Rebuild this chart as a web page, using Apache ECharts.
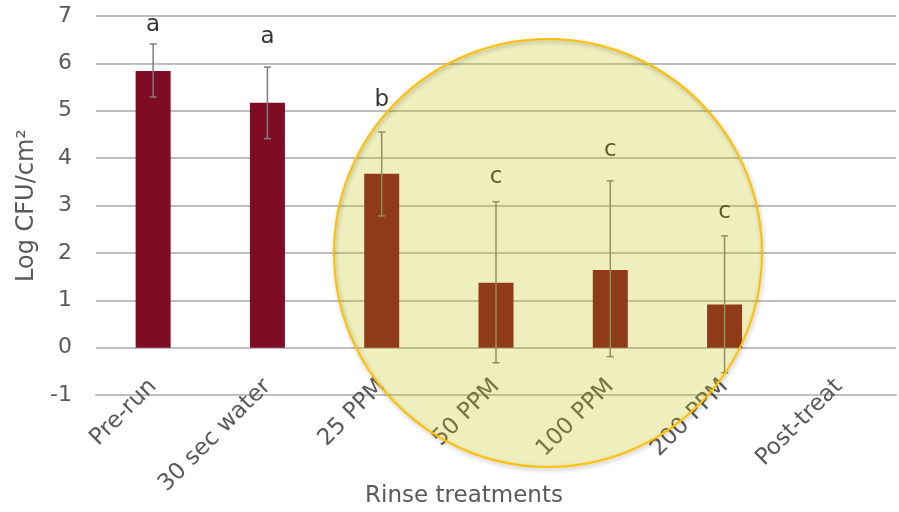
<!DOCTYPE html>
<html>
<head>
<meta charset="utf-8">
<script src="https://cdn.jsdelivr.net/npm/echarts@6/dist/echarts.min.js"></script>
<style>
	html, body { margin: 0; padding: 0; background: #fff; }
	#main { width: 899px; height: 512px; }
</style>
</head>
<body>
<div id="main"></div>
<script>
	var categories = [ 'Pre-run', '30 sec water', '25 PPM', '50 PPM', '100 PPM', '200 PPM', 'Post-treat' ];
	var means = [ 5.84, 5.17, 3.67, 1.37, 1.64, 0.91, null ];
	var errLow = [ 5.29, 4.41, 2.78, -0.32, -0.19, -0.53, null ];
	var errHigh = [ 6.41, 5.92, 4.55, 3.08, 3.52, 2.36, null ];
	var letters = [ 'a', 'a', 'b', 'c', 'c', 'c', '' ];
	var letterY = [ 6.81, 6.56, 5.23, 3.6, 4.17, 2.87, null ];

	var font = 'DejaVu Sans, Verdana, sans-serif';
	var myChart = echarts.init(document.getElementById('main'));

	var errData = [];
	var letterData = [];
	for (var i = 0; i < categories.length; i++) {
		if (means[i] == null) continue;
		errData.push([ i, errLow[i], errHigh[i] ]);
		letterData.push([ i, letterY[i], letters[i] ]);
	}

	option = {
		animation : false,
		grid : {
			left : 96,
			right : 3,
			top : 16,
			bottom : 117,
			outerBoundsMode : 'none'
		},
		xAxis : {
			type : 'category',
			data : categories,
			name : 'Rinse treatments',
			nameLocation : 'middle',
			nameGap : 90,
			nameMoveOverlap : false,
			nameTextStyle : {
				fontFamily : font,
				fontSize : 23,
				color : '#595959',
				padding : [ 0, 64, 0, 0 ]
			},
			axisLine : {
				onZero : false,
				lineStyle : { color : '#bfbfbf', width : 2 }
			},
			axisTick : { show : false },
			axisLabel : {
				rotate : 45,
				margin : -12,
				interval : 0,
				fontFamily : font,
				fontSize : 23,
				color : '#595959'
			}
		},
		yAxis : {
			type : 'value',
			min : -1,
			max : 7,
			interval : 1,
			name : 'Log CFU/cm\u00b2',
			nameLocation : 'middle',
			nameGap : 57,
			nameMoveOverlap : false,
			nameTextStyle : {
				fontFamily : font,
				fontSize : 24,
				color : '#595959'
			},
			axisLine : { show : false },
			axisTick : { show : false },
			axisLabel : {
				margin : 24,
				fontFamily : font,
				fontSize : 22,
				color : '#595959'
			},
			splitLine : {
				lineStyle : { color : '#bfbfbf', width : 2 }
			}
		},
		series : [ {
			name : 'mean',
			type : 'bar',
			data : means,
			barWidth : 35,
			itemStyle : { color : '#7e0c22' }
		}, {
			name : 'error',
			type : 'custom',
			data : errData,
			renderItem : function(params, api) {
				var x = api.value(0);
				var lo = api.coord([ x, api.value(1) ]);
				var hi = api.coord([ x, api.value(2) ]);
				var w = 3.5;
				var style = { stroke : '#7f7f7f', lineWidth : 1.5 };
				return {
					type : 'group',
					children : [ {
						type : 'line',
						shape : { x1 : hi[0], y1 : hi[1], x2 : lo[0], y2 : lo[1] },
						style : style
					}, {
						type : 'line',
						shape : { x1 : hi[0] - w, y1 : hi[1], x2 : hi[0] + w, y2 : hi[1] },
						style : style
					}, {
						type : 'line',
						shape : { x1 : lo[0] - w, y1 : lo[1], x2 : lo[0] + w, y2 : lo[1] },
						style : style
					} ]
				};
			},
			z : 3
		}, {
			name : 'letters',
			type : 'scatter',
			data : letterData,
			symbolSize : 0,
			label : {
				show : true,
				position : 'inside',
				formatter : function(p) { return p.value[2]; },
				fontFamily : font,
				fontSize : 23,
				color : '#000'
			},
			z : 4
		} ],
		// 黄色圆圈标注
		graphic : [ {
			type : 'circle',
			z : 100,
			shape : { cx : 548, cy : 253, r : 214 },
			style : {
				fill : 'rgba(192,192,0,0.26)'
			}
		}, {
			type : 'circle',
			z : 101,
			shape : { cx : 548, cy : 253, r : 214 },
			style : {
				fill : null,
				stroke : '#ffc000',
				lineWidth : 2,
				shadowBlur : 4,
				shadowOffsetX : 1,
				shadowOffsetY : 2,
				shadowColor : 'rgba(0,0,0,0.3)'
			}
		} ]
	};

	myChart.setOption(option);
</script>
</body>
</html>
